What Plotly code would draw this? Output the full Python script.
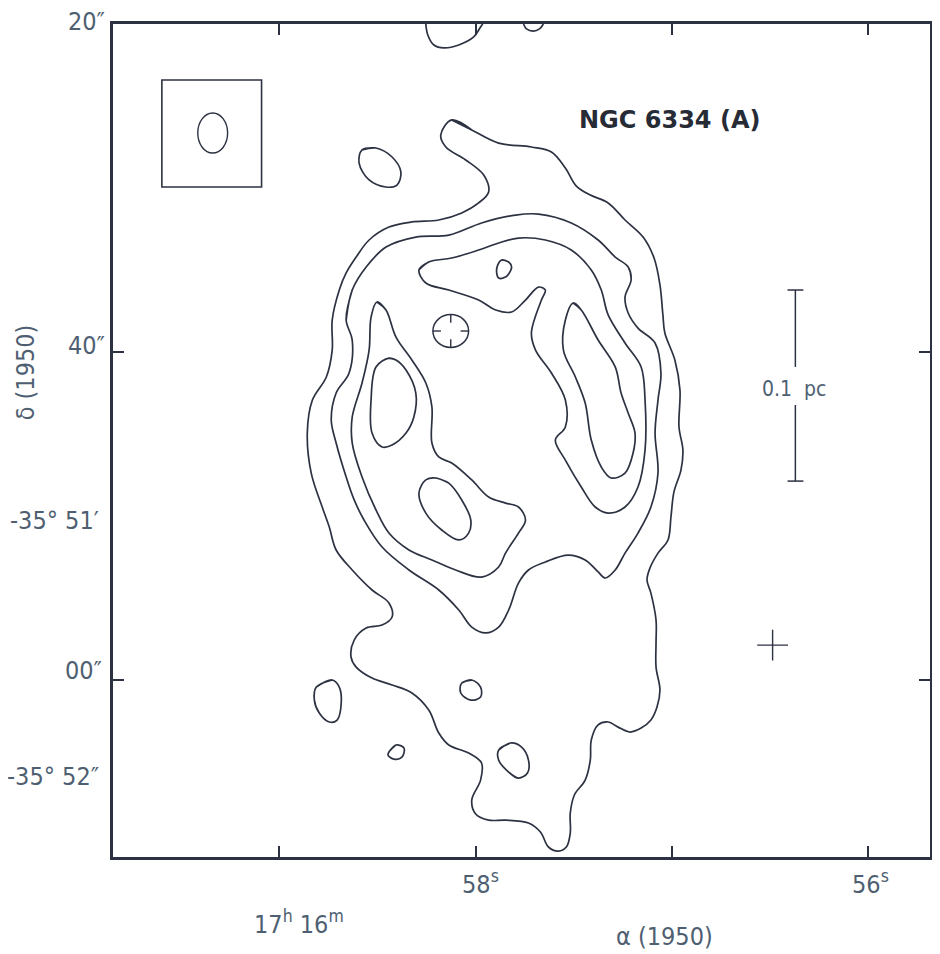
import plotly.graph_objects as go

# ---------------- data (RA: seconds of 17h16m, Dec: arcsec offset from -35°51'00") -------------
outer_ra = [58.122, 58.020, 57.883, 57.716, 57.614, 57.543, 57.487, 57.416, 57.325, 57.239, 57.147,
            57.091, 57.061, 57.046, 57.036, 56.985, 56.959, 56.964, 56.944, 56.954, 56.990, 57.005,
            57.020, 57.071, 57.112, 57.127, 57.107, 57.081, 57.081, 57.081, 57.061, 57.076, 57.107,
            57.157, 57.213, 57.274, 57.325, 57.376, 57.411, 57.416, 57.442, 57.497, 57.518, 57.518,
            57.538, 57.579, 57.629, 57.670, 57.731, 57.848, 57.934, 58.000, 58.020, 57.975, 57.970,
            58.036, 58.137, 58.188, 58.239, 58.325, 58.426, 58.528, 58.609, 58.635, 58.619, 58.558,
            58.477, 58.426, 58.442, 58.528, 58.629, 58.711, 58.746, 58.782, 58.838, 58.858, 58.832,
            58.761, 58.731, 58.731, 58.695, 58.660, 58.609, 58.543, 58.442, 58.325, 58.188, 58.071,
            57.985, 57.934, 57.959, 58.051, 58.152, 58.178]
outer_dec = [34.15, 33.54, 32.74, 32.50, 32.20, 31.22, 30.12, 29.57, 29.09, 28.05, 27.01,
             25.73, 24.09, 22.26, 21.16, 19.51, 17.68, 15.43, 14.02, 12.80, 11.46, 9.94,
             8.54, 7.74, 6.83, 6.10, 5.30, 3.66, 2.26, 0.79, -0.61, -1.65, -2.44,
             -2.93, -3.17, -2.87, -2.56, -2.74, -3.66, -4.88, -6.10, -7.01, -8.11, -9.33,
             -10.18, -10.43, -10.18, -9.27, -8.72, -8.54, -8.54, -8.17, -7.32, -6.10, -5.06,
             -4.45, -3.96, -3.23, -1.83, -0.79, -0.30, 0.12, 0.79, 1.40, 2.44, 3.17,
             3.35, 3.84, 4.70, 5.49, 6.71, 7.93, 9.33, 10.55, 12.62, 15.06, 17.07,
             18.48, 20.12, 21.95, 23.78, 24.82, 25.79, 26.83, 27.62, 27.93, 28.05, 28.48,
             29.09, 29.76, 30.79, 31.71, 32.50, 33.23]

second_ra = [58.660, 58.629, 58.558, 58.457, 58.305, 58.137, 57.970, 57.797, 57.680, 57.513, 57.376,
             57.289, 57.223, 57.208, 57.239, 57.223, 57.173, 57.086, 57.056, 57.071, 57.086, 57.071,
             57.107, 57.173, 57.239, 57.289, 57.340, 57.376, 57.442, 57.528, 57.645, 57.731, 57.782,
             57.832, 57.883, 57.949, 58.020, 58.086, 58.188, 58.340, 58.477, 58.569, 58.619, 58.660,
             58.711, 58.736, 58.711, 58.645, 58.629]
second_dec = [21.95, 23.78, 25.18, 26.40, 27.01, 27.13, 27.87, 28.35, 28.41, 27.87, 26.83,
              25.79, 25.18, 24.39, 23.35, 22.38, 21.46, 20.55, 18.72, 17.07, 15.06, 12.62,
              10.55, 8.96, 7.74, 6.71, 6.22, 6.59, 7.32, 7.62, 7.20, 6.71, 5.91,
              4.27, 3.23, 2.87, 3.23, 4.27, 5.49, 6.71, 8.11, 9.76, 10.98, 12.38,
              14.45, 15.85, 17.50, 18.72, 20.73]

third_west_ra = [58.503, 58.457, 58.406, 58.325, 58.254, 58.223, 58.223, 58.188, 58.122, 58.020,
                 57.934, 57.848, 57.782, 57.746, 57.782, 57.848, 57.883, 57.970, 58.102, 58.223,
                 58.340, 58.442, 58.508, 58.579, 58.629, 58.629, 58.579, 58.543, 58.533]
third_west_dec = [23.05, 22.56, 20.91, 19.51, 18.11, 16.65, 14.45, 13.60, 13.23, 12.20,
                  11.16, 10.79, 10.55, 9.76, 8.96, 7.74, 6.89, 6.28, 6.71, 7.32,
                  7.93, 8.96, 10.37, 12.38, 14.45, 16.04, 18.11, 20.12, 22.13]

third_east_ra = [58.289, 58.239, 58.122, 57.985, 57.883, 57.782, 57.645, 57.513, 57.411, 57.360,
                 57.325, 57.239, 57.157, 57.137, 57.137, 57.173, 57.239, 57.325, 57.391, 57.462,
                 57.543, 57.594, 57.543, 57.543, 57.614, 57.695, 57.716, 57.665, 57.645, 57.680,
                 57.746, 57.817, 57.898, 57.985, 58.137, 58.254]
third_east_dec = [25.00, 25.49, 25.73, 26.22, 26.65, 26.95, 26.83, 26.22, 25.00, 23.78,
                  22.26, 20.55, 19.09, 17.07, 14.02, 11.77, 10.55, 10.18, 10.55, 11.77,
                  13.41, 14.63, 15.43, 17.07, 18.72, 20.12, 21.16, 23.17, 23.78, 23.96,
                  23.17, 22.44, 22.56, 23.17, 23.78, 24.21]

peak_w_ra = [58.442, 58.406, 58.355, 58.305, 58.315, 58.355, 58.426, 58.477, 58.528, 58.533, 58.508]
peak_w_dec = [19.63, 19.51, 18.90, 17.50, 16.04, 15.06, 14.33, 14.21, 15.06, 17.07, 19.09]

peak_s_ra = [58.203, 58.137, 58.071, 58.025, 58.036, 58.086, 58.173, 58.254, 58.289, 58.254]
peak_s_dec = [12.32, 12.01, 10.98, 9.76, 8.96, 8.54, 9.15, 10.18, 11.40, 12.20]

peak_e_ra = [57.503, 57.462, 57.376, 57.289, 57.259, 57.223, 57.188, 57.198, 57.239, 57.310,
             57.360, 57.411, 57.442, 57.492, 57.553, 57.543]
peak_e_dec = [22.99, 22.56, 20.73, 19.09, 17.50, 16.28, 15.06, 13.84, 12.62, 12.32,
              12.99, 14.63, 16.89, 18.48, 20.12, 21.95]

knot_n_ra = [57.868, 57.832, 57.817, 57.832, 57.848, 57.883, 57.893, 57.888]
knot_n_dec = [25.61, 25.49, 25.18, 24.76, 24.57, 24.51, 24.82, 25.30]

blob_nw_ra = [58.579, 58.508, 58.426, 58.381, 58.401, 58.457, 58.543, 58.594]
blob_nw_dec = [32.32, 32.44, 31.89, 30.98, 30.18, 30.06, 30.49, 31.52]

blob_sw_ra = [58.812, 58.731, 58.695, 58.685, 58.706, 58.746, 58.797, 58.822]
blob_sw_dec = [-0.43, 0.00, -0.43, -1.40, -2.44, -2.56, -2.01, -1.22]

blob_s1_ra = [58.442, 58.406, 58.365, 58.376, 58.416, 58.447]
blob_s1_dec = [-4.39, -3.96, -4.15, -4.70, -4.82, -4.57]

blob_s2_ra = [58.071, 58.020, 57.975, 57.975, 58.025, 58.076]
blob_s2_dec = [-0.18, 0.00, -0.43, -1.04, -1.22, -0.79]

blob_s3_ra = [57.883, 57.822, 57.766, 57.731, 57.736, 57.782, 57.832, 57.883]
blob_s3_dec = [-4.27, -3.84, -4.09, -4.88, -5.67, -5.98, -5.61, -4.88]

edge_a_ra = [58.254, 58.244, 58.213, 58.162, 58.086, 58.010, 57.975, 57.964]
edge_a_dec = [40.0, 39.33, 38.72, 38.54, 38.72, 39.21, 39.82, 40.0]

edge_b_ra = [57.756, 57.741, 57.706, 57.675, 57.655]
edge_b_dec = [40.0, 39.70, 39.57, 39.70, 40.0]

source_ra = [58.127]        # marked position (circle with ticks)
source_dec = [21.28]
cross_ra = [56.487]         # reference cross
cross_dec = [2.13]

x_tick_vals = [59, 58, 57, 56]
y_tick_vals = [40, 20, 0]

# ---------------- styling ----------------
LINE = "#2c3242"
TXT = "#4f5f72"
FONT = "Liberation Sans Narrow, DejaVu Sans Condensed, Roboto, sans-serif"

closed = [
    (outer_ra, outer_dec), (second_ra, second_dec),
    (third_west_ra, third_west_dec), (third_east_ra, third_east_dec),
    (peak_w_ra, peak_w_dec), (peak_s_ra, peak_s_dec), (peak_e_ra, peak_e_dec),
    (knot_n_ra, knot_n_dec), (blob_nw_ra, blob_nw_dec), (blob_sw_ra, blob_sw_dec),
    (blob_s1_ra, blob_s1_dec), (blob_s2_ra, blob_s2_dec), (blob_s3_ra, blob_s3_dec),
]
opened = [(edge_a_ra, edge_a_dec), (edge_b_ra, edge_b_dec)]

fig = go.Figure()
for xs, ys in closed:
    fig.add_trace(go.Scatter(x=xs + xs[:2], y=ys + ys[:2], mode="lines",
                             line=dict(color=LINE, width=1.7, shape="spline", smoothing=1.0),
                             hoverinfo="skip", showlegend=False))
for xs, ys in opened:
    fig.add_trace(go.Scatter(x=xs, y=ys, mode="lines",
                             line=dict(color=LINE, width=1.7, shape="spline", smoothing=1.0),
                             hoverinfo="skip", showlegend=False, cliponaxis=True))

fig.add_trace(go.Scatter(x=cross_ra, y=cross_dec, mode="markers",
                         marker=dict(symbol="cross-thin", size=22, line=dict(color=LINE, width=1.4)),
                         hoverinfo="skip", showlegend=False))

shapes = []
# marked source: circle with inward ticks
sx, sy = source_ra[0], source_dec[0]
rx, ry = 0.091, 1.0
shapes.append(dict(type="circle", xref="x", yref="y", x0=sx - rx, x1=sx + rx, y0=sy - ry, y1=sy + ry,
                   line=dict(color=LINE, width=1.5)))
for (ax0, ay0, ax1, ay1) in [(sx, sy + ry, sx, sy + 0.5 * ry), (sx, sy - ry, sx, sy - 0.5 * ry),
                             (sx - rx, sy, sx - 0.55 * rx, sy), (sx + rx, sy, sx + 0.55 * rx, sy)]:
    shapes.append(dict(type="line", xref="x", yref="y", x0=ax0, y0=ay0, x1=ax1, y1=ay1,
                       line=dict(color=LINE, width=1.4)))

# beam box with beam ellipse
shapes.append(dict(type="rect", xref="x", yref="y", x0=59.599, x1=59.091, y0=30.06, y1=36.59,
                   line=dict(color=LINE, width=1.6)))
shapes.append(dict(type="circle", xref="x", yref="y", x0=59.416, x1=59.264, y0=32.13, y1=34.57,
                   line=dict(color=LINE, width=1.4)))

# scale bar 0.1 pc
bx = 56.371
for (y0, y1) in [(23.78, 19.09), (16.77, 12.13)]:
    shapes.append(dict(type="line", xref="x", yref="y", x0=bx, x1=bx, y0=y0, y1=y1,
                       line=dict(color=LINE, width=1.5)))
for yc in [23.78, 12.13]:
    shapes.append(dict(type="line", xref="x", yref="y", x0=56.411, x1=56.330, y0=yc, y1=yc,
                       line=dict(color=LINE, width=1.5)))

# page is drawn with an 8px body margin: shrink the figure and its margins to compensate
OFF = 8
PL, PR, PT, PB = 113, 933, 24, 857          # plot-area edges on the page
W, H = 940 - OFF, 954 - OFF
L, T = PL - OFF, PT - OFF
R = W - (PR - OFF)
B = H - (PB - OFF)


def px(xp):
    return (xp - PL) / (PR - PL)


def py(yp):
    return (PB - yp) / (PB - PT)


lab = dict(family=FONT, size=25, color=TXT)
ann = []
for text, xr, yc in [("20″", 107, 22), ("40″", 107, 345), ("-35° 51′", 101, 520),
                     ("00″", 104, 670), ("-35° 52″", 101, 776)]:
    ann.append(dict(text=text, xref="paper", yref="paper", x=px(xr), y=py(yc), xanchor="right",
                    yanchor="middle", showarrow=False, font=lab))
ann.append(dict(text="δ (1950)", xref="paper", yref="paper", x=px(25), y=py(372), textangle=-90,
                xanchor="center", yanchor="middle", showarrow=False, font=lab))
for text, xc, yc in [("58<sup>s</sup>", 482, 882), ("56<sup>s</sup>", 873, 882),
                     ("17<sup>h</sup> 16<sup>m</sup>", 300, 922), ("α (1950)", 667, 936)]:
    ann.append(dict(text=text, xref="paper", yref="paper", x=px(xc), y=py(yc), xanchor="center",
                    yanchor="middle", showarrow=False, font=lab))
ann.append(dict(text="NGC 6334 (A)", xref="paper", yref="paper", x=px(672), y=py(120),
                xanchor="center", yanchor="middle", showarrow=False,
                font=dict(family="DejaVu Sans, Liberation Sans, sans-serif", size=24, color="#262b36",
                          weight="bold")))
ann.append(dict(text="0.1  pc", xref="paper", yref="paper", x=px(797), y=py(389),
                xanchor="center", yanchor="middle", showarrow=False,
                font=dict(family=FONT, size=21, color=TXT)))

fig.update_layout(
    width=W, height=H, margin=dict(l=L, r=R, t=T, b=B),
    paper_bgcolor="white", plot_bgcolor="white",
    shapes=shapes, annotations=ann, showlegend=False,
    xaxis=dict(range=[59.848, 55.685], tickvals=x_tick_vals, showticklabels=False,
               ticks="inside", ticklen=11, tickwidth=1.6, tickcolor=LINE, mirror="ticks",
               showline=True, linewidth=2.6, linecolor=LINE, showgrid=False, zeroline=False),
    yaxis=dict(range=[-10.79, 40.0], tickvals=y_tick_vals, showticklabels=False,
               ticks="inside", ticklen=11, tickwidth=1.6, tickcolor=LINE, mirror="ticks",
               showline=True, linewidth=2.6, linecolor=LINE, showgrid=False, zeroline=False),
)

fig.write_html("out.html")
